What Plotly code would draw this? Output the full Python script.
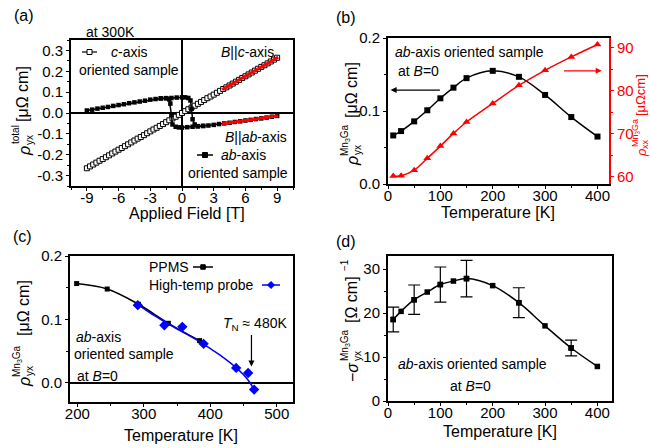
import plotly.graph_objects as go

# ---------------- data ----------------
# (a) total Hall resistivity vs applied field at 300 K
c_field = [-9.0, -8.7, -8.4, -8.1, -7.8, -7.5, -7.2, -6.9, -6.6, -6.3, -6.0, -5.7, -5.4, -5.1,
           -4.8, -4.5, -4.2, -3.9, -3.6, -3.3, -3.0, -2.7, -2.4, -2.1, -1.8, -1.5, -1.2, -0.9,
           -0.6, -0.3, 0.0, 0.3, 0.6, 0.9, 1.2, 1.5, 1.8, 2.1, 2.4, 2.7, 3.0, 3.3, 3.6, 3.9,
           4.2, 4.5, 4.8, 5.1, 5.4, 5.7, 6.0, 6.3, 6.6, 6.9, 7.2, 7.5, 7.8, 8.1, 8.4, 8.7, 9.0]
c_rho = [-0.265, -0.256, -0.247, -0.238, -0.229, -0.221, -0.212, -0.203, -0.194, -0.185, -0.176,
         -0.168, -0.159, -0.150, -0.141, -0.132, -0.123, -0.115, -0.106, -0.097, -0.088, -0.079,
         -0.071, -0.062, -0.053, -0.044, -0.035, -0.026, -0.018, -0.009, 0.000, 0.009, 0.018,
         0.026, 0.035, 0.044, 0.053, 0.062, 0.071, 0.079, 0.088, 0.097, 0.106, 0.115, 0.123,
         0.132, 0.141, 0.150, 0.159, 0.168, 0.176, 0.185, 0.194, 0.203, 0.212, 0.221, 0.229,
         0.238, 0.247, 0.256, 0.265]
ab_up_field = [-9.0, -8.5, -8.0, -7.5, -7.0, -6.5, -6.0, -5.5, -5.0, -4.5, -4.0, -3.5, -3.0, -2.5,
               -2.0, -1.5, -1.0, -0.5, 0.0, 0.3, 0.6, 0.8, 0.9, 1.0, 1.2, 1.5, 2.0, 2.5, 3.0, 3.5,
               4.0, 4.5, 5.0, 5.5, 6.0, 6.5, 7.0, 7.5, 8.0, 8.5, 9.0]
ab_up_rho = [0.012, 0.016, 0.021, 0.025, 0.029, 0.034, 0.038, 0.042, 0.047, 0.051, 0.055, 0.059,
             0.064, 0.067, 0.070, 0.071, 0.072, 0.074, 0.075, 0.075, 0.072, 0.060, 0.020, -0.030,
             -0.055, -0.063, -0.062, -0.060, -0.057, -0.053, -0.050, -0.047, -0.043, -0.040,
             -0.036, -0.033, -0.029, -0.026, -0.022, -0.018, -0.014]
ab_dn_field = [2.0, 1.5, 1.0, 0.5, 0.0, -0.3, -0.6, -0.9, -1.0, -1.1, -1.2, -1.5, -2.0]
ab_dn_rho = [-0.062, -0.064, -0.066, -0.068, -0.070, -0.069, -0.066, -0.055, -0.010, 0.045,
             0.065, 0.071, 0.070]
fit_field = [3.8, 9.1]
fit_c_rho = [0.112, 0.268]
fit_ab_rho = [-0.052, -0.013]

# (b) rho_yx and rho_xx vs temperature
b_T = [10, 25, 50, 75, 100, 125, 150, 200, 250, 300, 350, 400]
b_rho_yx = [0.0665, 0.0725, 0.0858, 0.101, 0.1174, 0.132, 0.145, 0.155, 0.1468, 0.122, 0.0917, 0.065]
b_rho_xx = [60.15, 60.2, 61.5, 64.25, 67.1, 70.05, 72.7, 77.0, 81.2, 84.7, 87.8, 90.7]

# (c) high temperature rho_yx (temperatures as read against the drawn axis)
ppms_T = [199, 245, 292, 337, 384]
ppms_rho = [0.1566, 0.148, 0.124, 0.094, 0.0667]
hp_T = [291, 331, 358, 390, 439, 457, 466]
hp_rho = [0.1226, 0.091, 0.0884, 0.0616, 0.0237, 0.0158, -0.0105]
hp_fit_T = [292, 310, 329, 347, 366, 384, 403, 421, 440, 449, 458, 466]
hp_fit_rho = [0.123, 0.110, 0.098, 0.087, 0.076, 0.065, 0.052, 0.039, 0.023, 0.014, 0.003, -0.0105]
TN_arrow_T = 462

# (d) anomalous Hall conductivity
d_T = [10, 25, 50, 75, 100, 125, 150, 200, 250, 300, 350, 400]
d_sigma = [18.55, 20.4, 23.05, 24.8, 26.5, 27.3, 27.86, 26.26, 22.37, 17.1, 12.06, 7.86]
err_T = [10, 50, 100, 150, 250, 350]
err_size = [2.8, 3.35, 4.0, 4.15, 3.4, 1.8]

# tick labels
a_xticks = [-9, -6, -3, 0, 3, 6, 9]
a_xticktext = ["-9", "-6", "-3", "0", "3", "6", "9"]
a_yticks = [-0.3, -0.2, -0.1, 0.0, 0.1, 0.2, 0.3]
a_yticktext = ["-0.3", "-0.2", "-0.1", "0.0", "0.1", "0.2", "0.3"]
rho_yticks = [0.0, 0.1, 0.2]
rho_yticktext = ["0.0", "0.1", "0.2"]
T_ticks = [0, 100, 200, 300, 400]
xx_ticks = [60, 70, 80, 90]
c_xticks = [200, 300, 400, 500]
d_yticks = [0, 10, 20, 30]

# ---------------- layout helpers ----------------
W, H = 650, 448
FONT = "Liberation Sans, Arial, sans-serif"
RED = "#ff0000"
BLUE = "#0000ff"


def fx(p):
    return p / W


def fy(p):
    return 1 - p / H


FA = (71, 40, 293, 186)
FB = (388, 38, 609, 184)
FC = (70, 256, 293, 402)
FD = (388, 256, 612, 401)


def dom(f):
    return dict(domain=[fx(f[0]), fx(f[2])]), dict(domain=[fy(f[3]), fy(f[1])])


TICKF = dict(size=15, color="black", family=FONT)


def minor(step, color="black"):
    return dict(ticks="outside", ticklen=2, tickwidth=1, tickcolor=color, dtick=step, tick0=0)


def axis(**kw):
    base = dict(showline=True, linecolor="black", linewidth=2, mirror=True,
                ticks="outside", ticklen=3, tickwidth=1.2, tickcolor="black",
                showgrid=False, zeroline=False, tickfont=TICKF)
    base.update(kw)
    return base


def xaxis(**kw):
    return axis(ticklabelstandoff=-6, **kw)


fig = go.Figure()

# ---------------- panel (a) ----------------
fig.add_trace(go.Scatter(x=c_field, y=c_rho, mode="lines+markers", xaxis="x", yaxis="y",
                         line=dict(color="black", width=1),
                         marker=dict(symbol="square", size=5, color="white",
                                     line=dict(color="black", width=1)),
                         name="c-axis oriented sample", showlegend=False))
for fxx, fyy in ((ab_up_field, ab_up_rho), (ab_dn_field, ab_dn_rho)):
    fig.add_trace(go.Scatter(x=fxx, y=fyy, mode="lines+markers", xaxis="x", yaxis="y",
                             line=dict(color="black", width=1.5),
                             marker=dict(symbol="square", size=4.5, color="black"),
                             name="ab-axis oriented sample", showlegend=False))
for fr in (fit_c_rho, fit_ab_rho):
    fig.add_trace(go.Scatter(x=fit_field, y=fr, mode="lines", xaxis="x", yaxis="y",
                             line=dict(color=RED, width=3), showlegend=False))

# ---------------- panel (b) ----------------
fig.add_trace(go.Scatter(x=b_T, y=b_rho_yx, mode="lines+markers", xaxis="x2", yaxis="y2",
                         line=dict(color="black", width=1.5, shape="spline"),
                         marker=dict(symbol="square", size=6, color="black"),
                         showlegend=False))
fig.add_trace(go.Scatter(x=b_T, y=b_rho_xx, mode="lines+markers", xaxis="x2", yaxis="y3",
                         line=dict(color=RED, width=1.5, shape="spline"),
                         marker=dict(symbol="triangle-up", size=7, color=RED),
                         showlegend=False))

# ---------------- panel (c) ----------------
fig.add_trace(go.Scatter(x=ppms_T, y=ppms_rho, mode="lines+markers", xaxis="x3", yaxis="y4",
                         line=dict(color="black", width=1.5, shape="spline"),
                         marker=dict(symbol="square", size=5, color="black"),
                         name="PPMS", showlegend=False))
fig.add_trace(go.Scatter(x=hp_fit_T, y=hp_fit_rho, mode="lines", xaxis="x3", yaxis="y4",
                         line=dict(color=BLUE, width=1.5, shape="spline"), showlegend=False))
fig.add_trace(go.Scatter(x=hp_T, y=hp_rho, mode="markers", xaxis="x3", yaxis="y4",
                         marker=dict(symbol="diamond", size=8, color=BLUE),
                         name="High-temp probe", showlegend=False))

# ---------------- panel (d) ----------------
fig.add_trace(go.Scatter(x=d_T, y=d_sigma, mode="lines+markers", xaxis="x4", yaxis="y5",
                         line=dict(color="black", width=1.5, shape="spline"),
                         marker=dict(symbol="square", size=5.5, color="black"),
                         showlegend=False))
err_sigma = [d_sigma[d_T.index(t)] for t in err_T]
fig.add_trace(go.Scatter(x=err_T, y=err_sigma, mode="markers", xaxis="x4", yaxis="y5",
                         marker=dict(symbol="square", size=5.5, color="black"),
                         error_y=dict(type="data", array=err_size, visible=True,
                                      color="black", thickness=1.2, width=6),
                         showlegend=False))

# ---------------- axes ----------------
xa, ya = dom(FA)
xb, yb = dom(FB)
xc, yc = dom(FC)
xd, yd = dom(FD)

layout_axes = dict(
    xaxis=xaxis(**xa, anchor="y", range=[-10.5, 10.5], tickmode="array", tickvals=a_xticks,
                ticktext=a_xticktext, zeroline=True, zerolinecolor="black", zerolinewidth=1.5,
                minor=minor(1.5)),
    yaxis=axis(**ya, anchor="x", range=[-0.35, 0.35], tickmode="array", tickvals=a_yticks,
               ticktext=a_yticktext, zeroline=True, zerolinecolor="black", zerolinewidth=1.5,
               minor=minor(0.05)),
    xaxis2=xaxis(**xb, anchor="y2", range=[0, 422], tickmode="array", tickvals=T_ticks,
                 minor=minor(50)),
    yaxis2=axis(**yb, anchor="x2", range=[0, 0.2], tickmode="array", tickvals=rho_yticks,
                ticktext=rho_yticktext, mirror=False, minor=minor(0.05)),
    yaxis3=dict(overlaying="y2", side="right", anchor="x2", range=[58.3, 92.2],
                tickmode="array", tickvals=xx_ticks, showline=True, linecolor=RED, linewidth=2,
                ticks="outside", ticklen=3, tickwidth=1.2, tickcolor=RED, showgrid=False,
                zeroline=False, tickfont=dict(size=15, color=RED, family=FONT),
                minor=minor(5, RED)),
    xaxis3=xaxis(**xc, anchor="y4", range=[189, 524.5], tickmode="array", tickvals=c_xticks,
                 minor=minor(50)),
    yaxis4=axis(**yc, anchor="x3", range=[-0.03, 0.2], tickmode="array", tickvals=rho_yticks,
                ticktext=rho_yticktext, zeroline=True, zerolinecolor="black", zerolinewidth=1.5,
                minor=minor(0.05)),
    xaxis4=xaxis(**xd, anchor="y5", range=[0, 428], tickmode="array", tickvals=T_ticks,
                 minor=minor(50)),
    yaxis5=axis(**yd, anchor="x4", range=[0, 33], tickmode="array", tickvals=d_yticks,
                minor=minor(5)),
)

# ---------------- annotations ----------------
ann = []


def text(t, x, y, size=14, xanchor="left", color="black", angle=0):
    ann.append(dict(text=t, x=fx(x), y=fy(y), xref="paper", yref="paper", showarrow=False,
                    xanchor=xanchor, yanchor="middle", textangle=angle,
                    font=dict(size=size, color=color, family=FONT)))


def vtext(t, x, y, size, color="black"):
    text(t, x, y, size=size, xanchor="center", color=color, angle=-90)


# panel labels
text("(a)", 12, 15, size=16)
text("(b)", 334, 17, size=16)
text("(c)", 11, 236, size=16)
text("(d)", 334, 241, size=16)

# x titles
text("Applied Field [T]", 187, 213, size=16, xanchor="center")
text("Temperature [K]", 498, 212, size=16, xanchor="center")
text("Temperature [K]", 181, 435, size=16, xanchor="center")
text("Temperature [K]", 500, 431, size=16, xanchor="center")

# y titles (a)
vtext("<i>ρ</i>", 24, 151, 16)
vtext("yx", 29, 140, 10)
vtext("total", 15, 135, 10)
vtext("[μΩ cm]", 22, 94, 16)
# (b) left
vtext("<i>ρ</i>", 352, 161, 16)
vtext("yx", 357, 150, 10)
vtext("Mn<sub>3</sub>Ga", 345, 140, 10)
vtext("[μΩ cm]", 351, 90, 16)
# (b) right
vtext("<i>ρ</i>", 641, 153, 13, RED)
vtext("xx", 645, 144, 9, RED)
vtext("Mn<sub>3</sub>Ga", 635, 133, 9, RED)
vtext("[μΩcm]", 641, 95, 13, RED)
# (c)
vtext("<i>ρ</i>", 24, 382, 16)
vtext("yx", 29, 371, 10)
vtext("Mn<sub>3</sub>Ga", 17, 361, 10)
vtext("[μΩ cm]", 23, 308, 16)
# (d)
vtext("−<i>σ</i>", 352, 372, 16)
vtext("yx", 357, 356, 10)
vtext("Mn<sub>3</sub>Ga", 345, 345, 10)
vtext("[Ω cm]", 351, 300, 16)
vtext("−1", 344, 265, 10)

# panel (a) texts
text("at 300K", 111, 32, xanchor="center")
text("<i>c</i>-axis", 109, 52)
text("oriented sample", 77, 70)
text("<i>B</i>||<i>c</i>-axis", 276, 52, xanchor="right")
text("<i>B</i>||<i>ab</i>-axis", 289, 137, xanchor="right")
text("<i>ab</i>-axis", 219, 155)
text("oriented sample", 290, 173, xanchor="right")

# panel (b) texts
text("<i>ab</i>-axis oriented sample", 393, 52)
text("at <i>B</i>=0", 396, 71)

# panel (c) texts
text("PPMS", 147, 267)
text("High-temp probe", 147, 285)
text("<i>ab</i>-axis", 74, 337)
text("oriented sample", 72, 354)
text("at <i>B</i>=0", 75, 376)
text("<i>T</i><sub>N</sub> ≈ 480K", 221, 324)

# panel (d) texts
text("<i>ab</i>-axis oriented sample", 473, 364, xanchor="center")
text("at <i>B</i>=0", 470, 386, xanchor="center")

# arrows
ann.append(dict(x=5, y=0.1287, ax=102, ay=0.1287, xref="x2", yref="y2", axref="x2", ayref="y2",
                showarrow=True, arrowhead=2, arrowsize=1, arrowwidth=1.2, arrowcolor="black", text=""))
ann.append(dict(x=408, y=0.155, ax=333, ay=0.155, xref="x2", yref="y2", axref="x2", ayref="y2",
                showarrow=True, arrowhead=2, arrowsize=1, arrowwidth=1.2, arrowcolor=RED, text=""))
ann.append(dict(x=TN_arrow_T, y=0.026, ax=TN_arrow_T, ay=0.078, xref="x3", yref="y4",
                axref="x3", ayref="y4", showarrow=True, arrowhead=2, arrowsize=1,
                arrowwidth=1.2, arrowcolor="black", text=""))

# legend glyphs (shapes in pixel-derived paper coords)
shapes = []


def hline(x0, x1, y, color, w=1.2):
    shapes.append(dict(type="line", xref="paper", yref="paper", x0=fx(x0), x1=fx(x1),
                       y0=fy(y), y1=fy(y), line=dict(color=color, width=w)))


def square(xc, yc_, s, fill, color):
    shapes.append(dict(type="rect", xref="paper", yref="paper", x0=fx(xc - s / 2), x1=fx(xc + s / 2),
                       y0=fy(yc_ + s / 2), y1=fy(yc_ - s / 2), fillcolor=fill,
                       line=dict(color=color, width=1)))


def diamond(xc, yc_, s, color):
    pts = [(xc, yc_ - s / 2), (xc + s / 2, yc_), (xc, yc_ + s / 2), (xc - s / 2, yc_)]
    path = "M " + " L ".join(f"{fx(a):.5f},{fy(b):.5f}" for a, b in pts) + " Z"
    shapes.append(dict(type="path", xref="paper", yref="paper", path=path, fillcolor=color,
                       line=dict(color=color, width=1)))


hline(82, 97, 52, "black")
square(89.5, 52, 5, "white", "black")
hline(197, 213, 155, "black", 1.5)
square(205, 155, 5, "black", "black")
hline(193, 213, 267, "black", 1.5)
square(203, 267, 4.5, "black", "black")
hline(262, 280, 285, BLUE, 1.5)
diamond(271, 285, 7, BLUE)

fig.update_layout(
    width=W, height=H, margin=dict(l=0, r=0, t=0, b=0, pad=0, autoexpand=False),
    paper_bgcolor="white", plot_bgcolor="white",
    font=dict(family=FONT, color="black"),
    showlegend=False, annotations=ann, shapes=shapes,
    **layout_axes,
)

fig.write_html("out.html", config={"displayModeBar": False},
               post_script="document.body.style.margin='0';document.body.style.overflow='hidden';")
